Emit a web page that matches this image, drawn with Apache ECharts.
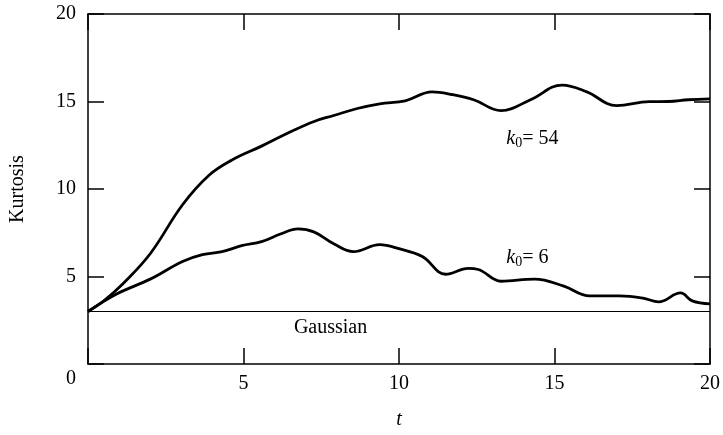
<!DOCTYPE html>
<html>
<head>
<meta charset="utf-8">
<script src="https://cdn.jsdelivr.net/npm/echarts@6/dist/echarts.min.js"></script>
<style>html,body{margin:0;padding:0;background:#fff}#c{width:723px;height:435px}</style>
</head>
<body>
<div id="c"></div>
<script>
// t values and kurtosis for k0 = 54
const k54 = [
  [0,3.0],[0.5,3.6],[1.14,4.62],[2.0,6.3],[3.04,9.1],[3.9,10.8],[4.63,11.66],[5.58,12.45],
  [6.43,13.2],[7.27,13.86],[7.9,14.2],[8.66,14.6],[9.38,14.87],[10.2,15.04],[11.06,15.55],
  [11.7,15.4],[12.4,15.1],[13.28,14.48],[14.23,15.1],[15.25,15.94],[16.04,15.55],
  [17.0,14.76],[18.04,14.99],[18.67,15.0],[19.3,15.1],[20,15.15]
];
// t values and kurtosis for k0 = 6
const k6 = [
  [0,3.0],[0.92,4.0],[2.0,4.85],[3.04,5.86],[3.68,6.25],[4.31,6.42],[4.94,6.76],[5.58,6.99],
  [6.21,7.44],[6.75,7.72],[7.26,7.55],[7.9,6.87],[8.53,6.42],[9.38,6.82],[10.0,6.59],
  [10.75,6.14],[11.5,5.13],[12.23,5.46],[12.55,5.4],[13.28,4.73],[14.36,4.85],[15.3,4.45],
  [16.13,3.89],[17.08,3.89],[17.84,3.77],[18.35,3.55],[19.05,4.06],[19.43,3.61],[20,3.44]
];
const gaussian = [[0,3],[20,3]];
const xTicks = [0,5,10,15,20];
const yTicks = [0,5,10,15,20];

const FONT = '"Liberation Serif", "Times New Roman", serif';
const chart = echarts.init(document.getElementById('c'), null, {renderer:'canvas'});
const frameLine = {show:true, onZero:false, lineStyle:{color:'#000', width:1.5}};
const tick = {show:true, inside:true, length:16, lineStyle:{color:'#000', width:1.5}};
chart.setOption({
  animation:false,
  backgroundColor:'#fff',
  grid:{left:84, right:8, top:14, bottom:66, containLabel:false},
  xAxis:[
    {type:'value', min:0, max:20, interval:5, position:'bottom',
     axisLine:frameLine, axisTick:tick, splitLine:{show:false},
     axisLabel:{fontFamily:FONT, fontSize:20, color:'#000', margin:10,
       formatter:v => v===0 ? '' : String(v)},
     name:'t', nameLocation:'middle', nameGap:46,
     nameTextStyle:{fontFamily:FONT, fontSize:20, fontStyle:'italic', color:'#000'}},
    {type:'value', min:0, max:20, interval:5, position:'top',
     axisLine:frameLine, axisTick:tick, axisLabel:{show:false}, splitLine:{show:false}}
  ],
  yAxis:[
    {type:'value', min:0, max:20, interval:5, position:'left',
     axisLine:frameLine, axisTick:tick, splitLine:{show:false},
     axisLabel:{fontFamily:FONT, fontSize:20, color:'#000', margin:12,
       formatter:v => v===0 ? '{lo|0}' : String(v),
       rich:{lo:{fontFamily:FONT, fontSize:20, color:'#000', padding:[30,0,0,0]}}},
     name:'Kurtosis', nameLocation:'middle', nameGap:60, nameRotate:90,
     nameTextStyle:{fontFamily:FONT, fontSize:20, color:'#000'}},
    {type:'value', min:0, max:20, interval:5, position:'right',
     axisLine:frameLine, axisTick:tick, axisLabel:{show:false}, splitLine:{show:false}}
  ],
  series:[
    {type:'line', data:gaussian, showSymbol:false, lineStyle:{color:'#000', width:1}, z:1},
    {type:'line', data:k54, smooth:0.4, showSymbol:false, lineStyle:{color:'#000', width:2.8}},
    {type:'line', data:k6, smooth:0.4, showSymbol:false, lineStyle:{color:'#000', width:2.8}}
  ]
});

function px(pt){ return chart.convertToPixel({xAxisIndex:0, yAxisIndex:0}, pt); }
const gPos = px([7.8, 2.05]);
const l54 = px([13.45, 12.85]);
const l6 = px([13.45, 6.05]);
const rich = {
  k:{fontFamily:FONT, fontSize:20, fontStyle:'italic', color:'#000'},
  s:{fontFamily:FONT, fontSize:14, color:'#000', verticalAlign:'bottom', padding:[8,0,0,0]},
  n:{fontFamily:FONT, fontSize:20, color:'#000'}
};
chart.setOption({
  graphic:[
    {type:'text', x:gPos[0], y:gPos[1], style:{text:'Gaussian', font:'20px '+FONT, fill:'#000', align:'center', verticalAlign:'middle'}},
    {type:'text', x:l54[0], y:l54[1], style:{text:'{k|k}{s|0}{n|= 54}', rich:rich, align:'left', verticalAlign:'middle'}},
    {type:'text', x:l6[0], y:l6[1], style:{text:'{k|k}{s|0}{n|= 6}', rich:rich, align:'left', verticalAlign:'middle'}}
  ]
});
</script>
</body>
</html>
